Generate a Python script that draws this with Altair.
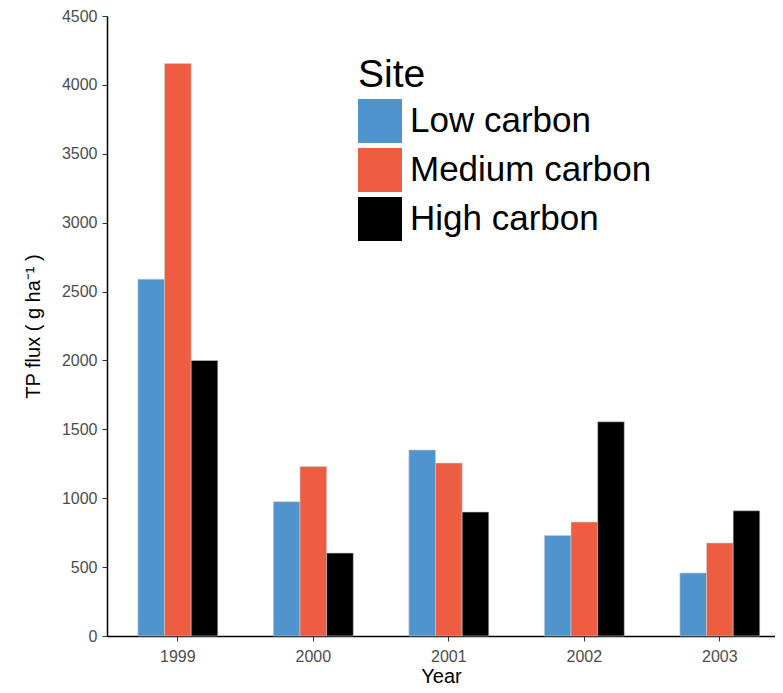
import altair as alt
import pandas as pd

years = ["1999", "2000", "2001", "2002", "2003"]
sites = ["Low carbon", "Medium carbon", "High carbon"]
low = [2590, 975, 1350, 730, 457]
medium = [4155, 1230, 1255, 827, 675]
high = [2000, 602, 900, 1555, 909]
colors = ["#4F94CD", "#EE5C42", "#000000"]

rows = []
for i, y in enumerate(years):
    for s, vals in zip(sites, [low, medium, high]):
        rows.append({"Year": y, "Site": s, "Flux": vals[i]})
df = pd.DataFrame(rows)

font = "Liberation Sans"

chart = alt.Chart(df).mark_bar(stroke="#cccccc", strokeWidth=0.6).encode(
    x=alt.X("Year:N", sort=years,
            scale=alt.Scale(paddingInner=0.41, paddingOuter=0.17, align=0.67),
            axis=alt.Axis(title="Year", labelAngle=0, labelFontSize=16, labelColor="#4d4d4d",
                          titleFontSize=20, titleColor="black", titleFontWeight="normal",
                          domainColor="black", domainWidth=1.5, tickColor="#333333",
                          tickSize=5, labelPadding=7, titlePadding=2, labelFont=font, titleFont=font)),
    xOffset=alt.XOffset("Site:N", sort=sites),
    y=alt.Y("Flux:Q", scale=alt.Scale(domain=[0, 4500], nice=False),
            axis=alt.Axis(title="TP flux ( g ha⁻¹ )", values=list(range(0, 4501, 500)), format="d",
                          grid=False, labelFontSize=16, labelColor="#4d4d4d", titleFontSize=20,
                          titleColor="black", titleFontWeight="normal", domainColor="black",
                          domainWidth=1.5, tickColor="#333333", tickSize=5, labelPadding=5,
                          titlePadding=18, labelFont=font, titleFont=font)),
    color=alt.Color("Site:N", sort=sites, scale=alt.Scale(domain=sites, range=colors),
                    legend=alt.Legend(title="Site", orient="none", legendX=251, legendY=40,
                                      titleFontSize=39, titleFontWeight="normal", titleColor="black",
                                      labelFontSize=35, labelColor="black", symbolType="square",
                                      symbolSize=1936, symbolStrokeWidth=0, rowPadding=5,
                                      labelOffset=8, titlePadding=4, labelLimit=400,
                                      labelFont=font, titleFont=font)),
).properties(
    width=668, height=620,
    autosize=alt.AutoSizeParams(type="none"),
    padding={"left": 99, "top": 8, "right": 0, "bottom": 49},
).configure_view(stroke=None).configure_axis(grid=False)

chart.save("out.html", embed_options={"renderer": "svg", "actions": False})
